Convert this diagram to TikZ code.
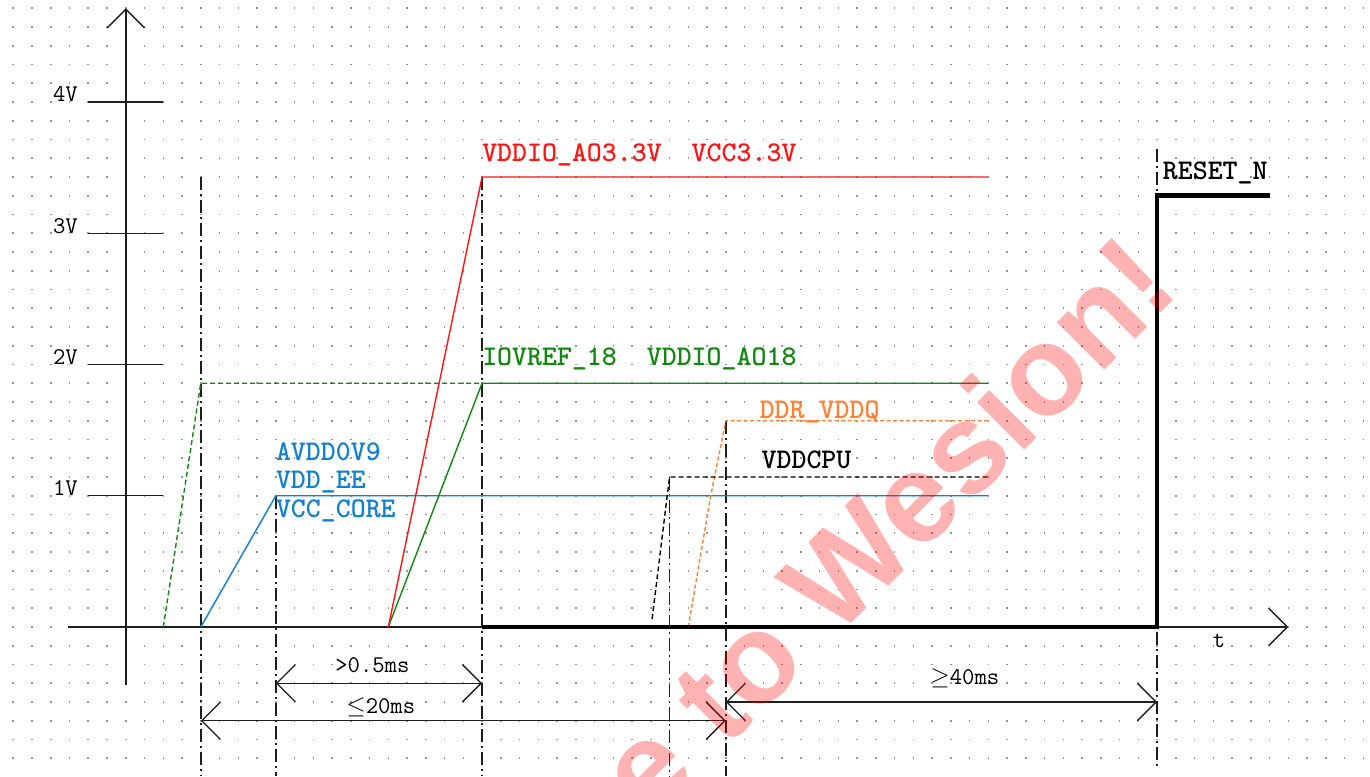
\documentclass[tikz,border=0pt]{standalone}
\usepackage{fontspec}
\newfontfamily\wmfont{Liberation Sans}
\usetikzlibrary{arrows.meta}
\definecolor{sigblue}{RGB}{16,128,208}
\definecolor{siggreen}{RGB}{16,136,16}
\definecolor{sigred}{RGB}{255,20,20}
\definecolor{sigorange}{RGB}{255,128,48}
\definecolor{axisgray}{RGB}{30,30,30}
\definecolor{dotgray}{RGB}{150,150,150}
\newcommand\lblfont{\ttfamily\bfseries\fontsize{28.5}{30}\selectfont}
\newcommand\axfont{\ttfamily\fontsize{24}{26}\selectfont}
\tikzset{
  dotrow/.style={draw=dotgray, line width=1.6pt, dash pattern=on 1.6pt off 17.15pt},
  axisline/.style={draw=axisgray, line width=1.4pt},
  barbtip/.style={-{Straight Barb[length=18.75pt,width=37.5pt]}},
  dimline/.style={draw=axisgray, line width=1.3pt, {Straight Barb[length=18.75pt,width=37.5pt]}-{Straight Barb[length=18.75pt,width=37.5pt]}},
  guide/.style={draw=axisgray, line width=1.4pt, dash pattern=on 13pt off 4pt on 2pt off 4pt},
  sigline/.style={line width=1.4pt, line join=miter},
  sigdash/.style={sigline, dash pattern=on 5pt off 3pt},
  sigdot/.style={sigline, dash pattern=on 4pt off 2.5pt},
  resetline/.style={draw=black, line width=4.6pt, line join=miter},
  lbl/.style={font=\lblfont, inner sep=0pt, anchor=base west},
  axlbl/.style={font=\axfont, inner sep=0pt},
}
\begin{document}
\begin{tikzpicture}[x=18.75pt,y=18.75pt]
\useasboundingbox[fill=white] (-6.7093,-7.9467) rectangle (66.357,33.44);
% dotted grid
\foreach \r in {-7,...,33}
  \draw[dotrow] ([xshift=-0.8pt]-6,\r) -- (66.3,\r);
% axes
\coordinate (ytop) at (0,33);
\coordinate (ybot) at (0,-3.09);
\coordinate (xleft) at (-3.08,0);
\coordinate (xright) at (62,0);
\draw[axisline, barbtip] (ybot) -- (ytop);
\draw[axisline, barbtip] (xleft) -- (xright);
\node[axlbl, anchor=base] (tlbl) at (58.3,-1.07) {t};
\foreach \v in {1,...,4}{
  \coordinate (tl\v) at (-2,7*\v);
  \coordinate (tr\v) at (2,7*\v);
  \draw[axisline] (tl\v) -- (tr\v);
  \node[axlbl, anchor=base east] (v\v) at (-2.55,7*\v) {\v V};
}
% dash-dot guides
\coordinate (g1t) at (4,24);   \coordinate (g1b) at (4,-7.95);
\coordinate (g2t) at (8,7);    \coordinate (g2b) at (8,-7.95);
\coordinate (g3t) at (19,24);  \coordinate (g3b) at (19,-7.95);
\coordinate (g4t) at (29,8);   \coordinate (g4b) at (29,-7.95);
\coordinate (g5t) at (32,11);  \coordinate (g5b) at (32,-7.95);
\coordinate (g6t) at (55,25.5);\coordinate (g6b) at (55,-7.47);
\foreach \g in {1,...,6} \draw[guide] (g\g t) -- (g\g b);
% signals
\draw[sigline, sigblue] (4,0) -- (8,7) -- (46,7);
\draw[sigdash, siggreen] (2,0) -- (4,13) -- (19,13);
\draw[sigline, siggreen] (14,0) -- (19,13) -- (46,13);
\draw[sigline, sigred] (14,0) -- (19,24) -- (46,24);
\draw[sigdot, sigorange] (30,0) -- (31.16,6.8) -- (32,11) -- (46,11);
\draw[sigdash, black] (28.07,0.43) -- (28.9,7.2) -- (29,8) -- (46,8);
\draw[resetline] (19,0) -- (55,0) -- (55,23) -- (61,23);
% labels
\node[lbl, text=sigred] (l33) at (19.0,24.85) {VDDIO\_AO3.3V\ \ VCC3.3V};
\node[lbl, text=siggreen] (l18) at (19.0,13.97) {IOVREF\_18\ \ VDDIO\_AO18};
\node[lbl, text=sigblue] (lav) at (8.0,8.88) {AVDD0V9};
\node[lbl, text=sigblue] (lee) at (8.0,7.39) {VDD\_EE};
\node[lbl, text=sigblue] (lcore) at (8.0,5.86) {VCC\_CORE};
\node[lbl, text=sigorange] (lddr) at (33.8,11.1) {DDR\_VDDQ};
\node[lbl, text=black] (lcpu) at (33.9,8.48) {VDDCPU};
\node[lbl, text=black] (lrst) at (55.3,23.84) {RESET\_N};
% dimensions
\coordinate (a1) at (8,-3);  \coordinate (a2) at (19,-3);
\coordinate (b1) at (4,-5);  \coordinate (b2) at (32,-5);
\coordinate (c1) at (32,-4); \coordinate (c2) at (55,-4);
\draw[dimline] (a1) -- (a2);
\draw[dimline] (b1) -- (b2);
\draw[dimline] (c1) -- (c2);
\node[axlbl, anchor=base] (da) at (13.15,-2.45) {>0.5ms};
\node[axlbl, anchor=base] (db) at (13.6,-4.59) {$\leq$20ms};
\node[axlbl, anchor=base] (dc) at (44.75,-3.09) {$\geq$40ms};
% watermark
\begin{scope}
\clip (-6.7093,-7.9467) rectangle (66.357,33.44);
\node[rotate=45, anchor=base east, inner sep=0pt, text=red, text opacity=0.3,
  font=\wmfont\bfseries\fontsize{127}{127}\selectfont] (wm) at (56.38,17.87) {e to Wesion!};
\end{scope}
\end{tikzpicture}
\end{document}
